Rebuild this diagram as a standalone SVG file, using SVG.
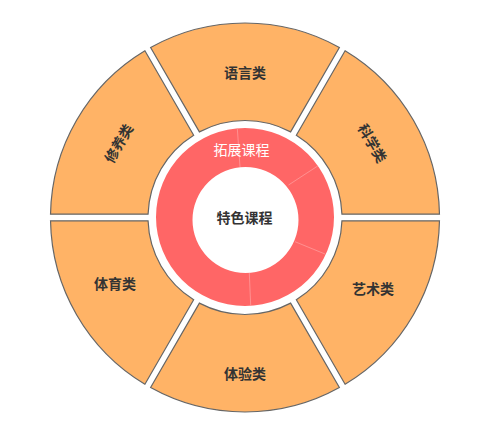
<svg xmlns="http://www.w3.org/2000/svg" width="499" height="431" viewBox="0 0 499 431">
<style>
.seg{fill:#FFB366;stroke:#666666;stroke-width:1.2;}
.lbl{font-family:"Noto Sans CJK SC","Noto Sans",sans-serif;font-size:14px;font-weight:bold;fill:#333333;text-anchor:middle;dominant-baseline:central;}
.sep{stroke:#FF9A9A;stroke-width:0.8;}
</style>
<rect width="499" height="431" fill="#FFFFFF"/>
<g id="node-kexue">
<path class="seg" d="M341.94,214.2 L439.47,214.2 A194.5,194.5 0 0 0 345.09,50.74 L296.33,135.2 A97,97 0 0 1 341.94,214.2 Z"/>
<text class="lbl" transform="translate(373,143) rotate(60)">科学类</text>
</g>
<g id="node-yuyan">
<path class="seg" d="M290.61,131.9 L339.38,47.44 A194.5,194.5 0 0 0 150.62,47.44 L199.39,131.9 A97,97 0 0 1 290.61,131.9 Z"/>
<text class="lbl" x="245" y="72">语言类</text>
</g>
<g id="node-xiuyang">
<path class="seg" d="M193.67,135.2 L144.91,50.74 A194.5,194.5 0 0 0 50.53,214.2 L148.06,214.2 A97,97 0 0 1 193.67,135.2 Z"/>
<text class="lbl" transform="translate(118,143) rotate(-60)">修养类</text>
</g>
<g id="node-tiyu">
<path class="seg" d="M148.06,220.8 L50.53,220.8 A194.5,194.5 0 0 0 144.91,384.26 L193.67,299.8 A97,97 0 0 1 148.06,220.8 Z"/>
<text class="lbl" x="115" y="283">体育类</text>
</g>
<g id="node-tiyan">
<path class="seg" d="M199.39,303.1 L150.62,387.56 A194.5,194.5 0 0 0 339.38,387.56 L290.61,303.1 A97,97 0 0 1 199.39,303.1 Z"/>
<text class="lbl" x="245" y="373">体验类</text>
</g>
<g id="node-yishu">
<path class="seg" d="M296.33,299.8 L345.09,384.26 A194.5,194.5 0 0 0 439.47,220.8 L341.94,220.8 A97,97 0 0 1 296.33,299.8 Z"/>
<text class="lbl" x="373" y="288">艺术类</text>
</g>
<g id="node-tuozhan">
<path fill="#FF6666" fill-rule="evenodd" d="M334,217 A89,89 0 1 0 156,217 A89,89 0 1 0 334,217 Z M298.5,220 A53,53 0 1 0 192.5,220 A53,53 0 1 0 298.5,220 Z"/>
<g class="sep">
<line x1="237.3" y1="128.3" x2="240" y2="167"/>
<line x1="317.7" y1="166" x2="288.5" y2="185"/>
<line x1="325" y1="254" x2="295" y2="241.7"/>
<line x1="250.7" y1="305.5" x2="249.3" y2="273"/>
</g>
<text x="241.5" y="149" style="font-family:'Noto Sans CJK SC','Noto Sans',sans-serif;font-size:14px;fill:#FFFFFF;text-anchor:middle;dominant-baseline:central;">拓展课程</text>
</g>
<g id="node-tese">
<text class="lbl" x="244.5" y="217">特色课程</text>
</g>
<g id="connectors"></g>
</svg>
